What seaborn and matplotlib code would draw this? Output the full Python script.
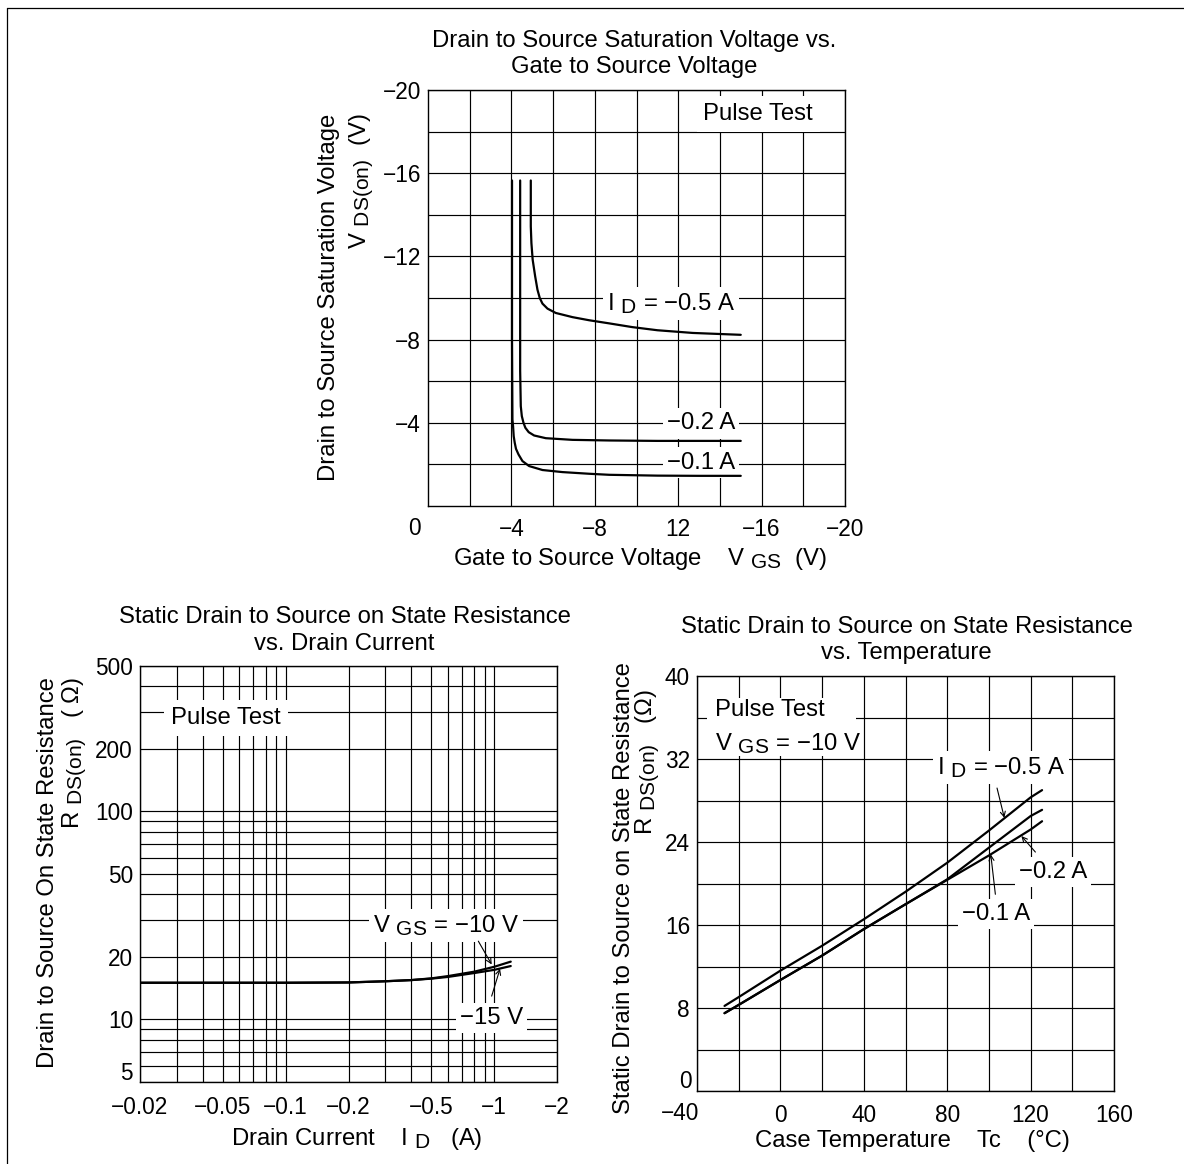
import numpy as np
import matplotlib
matplotlib.use("Agg")
import matplotlib.pyplot as plt
import seaborn as sns
from matplotlib.ticker import FixedLocator, NullFormatter
from matplotlib.lines import Line2D
from matplotlib.patches import Rectangle

# ---------------- data ----------------
# Top: V_DS(on) vs V_GS
vgs_01 = [-4.03, -4.03, -4.05, -4.08, -4.11, -4.16, -4.22, -4.34, -4.53, -4.85, -5.49, -6.45, -7.73, -8.69, -11.0, -13.0, -15.0]
vds_01 = [-15.65, -8.0, -4.16, -3.84, -3.36, -3.04, -2.75, -2.48, -2.16, -1.92, -1.73, -1.63, -1.55, -1.50, -1.46, -1.45, -1.45]
vgs_02 = [-4.42, -4.42, -4.45, -4.50, -4.58, -4.67, -4.83, -5.09, -5.65, -6.93, -8.69, -11.0, -15.0]
vds_02 = [-15.65, -6.5, -4.80, -4.32, -4.00, -3.76, -3.55, -3.39, -3.26, -3.18, -3.15, -3.13, -3.13]
vgs_05 = [-4.93, -4.93, -4.96, -5.02, -5.14, -5.25, -5.36, -5.49, -5.73, -6.13, -6.93, -7.73, -8.69, -9.8, -11.0, -12.7, -15.0]
vds_05 = [-15.65, -13.44, -12.64, -11.84, -11.04, -10.4, -10.0, -9.73, -9.49, -9.28, -9.08, -8.93, -8.78, -8.60, -8.45, -8.32, -8.23]
top_xticks = [-4, -8, -12, -16, -20]
top_xticklabels = ["\u22124", "\u22128", "12", "\u221216", "\u221220"]
top_yticks = [-4, -8, -12, -16, -20]
top_yticklabels = ["\u22124", "\u22128", "\u221212", "\u221216", "\u221220"]

# Bottom-left: R_DS(on) vs I_D
id_vals = [-0.02, -0.05, -0.1, -0.2, -0.3, -0.4, -0.5, -0.6, -0.8, -1.0, -1.2]
r_vgs10 = [15.0, 15.0, 15.0, 15.05, 15.25, 15.45, 15.75, 16.15, 16.95, 17.9, 18.95]
r_vgs15 = [15.0, 15.0, 15.0, 15.05, 15.25, 15.45, 15.7, 16.0, 16.7, 17.3, 18.05]
bl_xticks = [0.02, 0.05, 0.1, 0.2, 0.5, 1, 2]
bl_xticklabels = ["\u22120.02", "\u22120.05", "\u22120.1", "\u22120.2", "\u22120.5", "\u22121", "\u22122"]
bl_yticks = [5, 10, 20, 50, 100, 200, 500]
bl_yticklabels = ["", "10", "20", "50", "100", "200", "500"]

# Bottom-right: R_DS(on) vs Tc
tc_vals = [-26.8, -20, 0, 20, 40, 60, 80, 100, 120, 125.5]
r_id05 = [8.2, 9.05, 11.6, 14.0, 16.55, 19.2, 22.0, 25.1, 28.3, 29.0]
r_id02 = [7.5, 8.3, 10.7, 13.05, 15.6, 18.0, 20.4, 23.45, 26.5, 27.1]
r_id01 = [7.5, 8.3, 10.7, 13.05, 15.6, 18.0, 20.35, 22.7, 25.2, 26.0]
br_xticks = [-40, 0, 40, 80, 120, 160]
br_xticklabels = ["", "0", "40", "80", "120", "160"]
br_yticks = [0, 8, 16, 24, 32, 40]
br_yticklabels = ["", "8", "16", "24", "32", "40"]

# ---------------- style ----------------
sns.set_theme(style="white")
plt.rcParams.update({
    "font.family": ["Liberation Sans", "DejaVu Sans"],
    "mathtext.fontset": "custom",
    "mathtext.rm": "Liberation Sans",
    "mathtext.it": "Liberation Sans:italic",
    "mathtext.bf": "Liberation Sans:bold",
    "axes.edgecolor": "black",
    "axes.linewidth": 1.0,
    "text.color": "black",
    "xtick.color": "black",
    "ytick.color": "black",
    "axes.labelcolor": "black",
})
try:
    import matplotlib._mathtext as _mt
    _mt.SHRINK_FACTOR = 0.88
except Exception:
    pass

W, H = 1184, 1164
FS = 17.2      # titles, labels, annotations
TFS = 16.3     # tick labels
fig = plt.figure(figsize=(W / 100, H / 100), dpi=100)


def ax_at(l, t, r, b):
    return fig.add_axes([l / W, 1 - b / H, (r - l) / W, (b - t) / H])


def ftext(x, y, s, **kw):
    kw.setdefault("fontsize", FS)
    return fig.text(x / W, 1 - y / H, s, **kw)


WB = dict(facecolor="white", edgecolor="none", pad=3)
GRID = dict(color="black", linewidth=0.85)
LW = 1.6


def arrow(ax, tail, head):
    ax.annotate("", xy=head, xytext=tail, zorder=6,
                arrowprops=dict(arrowstyle="->", color="black", lw=0.8,
                                shrinkA=0, shrinkB=0, mutation_scale=9))


def curve(ax, xs, ys):
    sns.lineplot(x=xs, y=ys, ax=ax, color="black", lw=LW, sort=False,
                 estimator=None, zorder=5)


def style_axes(ax):
    ax.grid(True, which="both", **GRID)
    ax.set_axisbelow(True)
    ax.tick_params(which="both", length=0, labelsize=TFS)
    for sp in ax.spines.values():
        sp.set_visible(True)
        sp.set_color("black")
        sp.set_linewidth(1.0)
        sp.set_zorder(7)
    ax.set_xlabel("")
    ax.set_ylabel("")


# ---------------- top chart ----------------
ax1 = ax_at(428, 90, 845, 506)
curve(ax1, vgs_01, vds_01)
curve(ax1, vgs_02, vds_02)
curve(ax1, vgs_05, vds_05)
ax1.set_xlim(0, -20)
ax1.set_ylim(0, -20)
ax1.xaxis.set_major_locator(FixedLocator(top_xticks))
ax1.set_xticklabels(top_xticklabels)
ax1.xaxis.set_minor_locator(FixedLocator([-2, -6, -10, -14, -18]))
ax1.yaxis.set_major_locator(FixedLocator(top_yticks))
ax1.set_yticklabels(top_yticklabels)
ax1.yaxis.set_minor_locator(FixedLocator([-2, -6, -10, -14, -18]))
style_axes(ax1)
ax1.tick_params(axis="x", pad=9)
ax1.tick_params(axis="y", pad=5)
ftext(414, 529, "0", ha="center", va="center", fontsize=TFS)

ax1.text(-15.84, -18.56, "Pulse Test", ha="center", va="baseline", fontsize=FS, bbox=dict(WB, pad=5))
ax1.text(-14.74, -9.44, "I $_{\\mathrm{D}}$ = \u22120.5 A", ha="right", va="baseline", fontsize=FS, bbox=WB)
ax1.text(-14.74, -3.68, "\u22120.2 A", ha="right", va="baseline", fontsize=FS, bbox=WB)
ax1.text(-14.74, -1.80, "\u22120.1 A", ha="right", va="baseline", fontsize=FS, bbox=WB)

ftext(634.5, 47.5, "Drain to Source Saturation Voltage vs.", ha="center", va="baseline")
ftext(634.5, 73.5, "Gate to Source Voltage", ha="center", va="baseline")
ftext(328.5, 113.6, "Drain to Source Saturation Voltage", rotation=90, ha="center", va="top")
ftext(361.5, 113.6, "V $_{\\mathrm{DS(on)}}$  (V)", rotation=90, ha="center", va="top")
ftext(640, 564.6, "Gate to Source Voltage    V $_{\\mathrm{GS}}$  (V)", ha="center", va="baseline")

# ---------------- bottom-left chart ----------------
ax2 = ax_at(140, 666, 557, 1082)
id_abs = np.abs(id_vals)
curve(ax2, id_abs, r_vgs15)
curve(ax2, id_abs, r_vgs10)
ax2.set_xscale("log")
ax2.set_yscale("log")
ax2.set_xlim(0.02, 2)
ax2.set_ylim(5, 500)
minor_x = [k * 10.0 ** e for e in (-2, -1, 0) for k in range(1, 10) if 0.02 < k * 10.0 ** e < 2]
minor_y = [k * 10.0 ** e for e in (0, 1, 2) for k in range(1, 10) if 5 < k * 10.0 ** e < 500]
ax2.xaxis.set_major_locator(FixedLocator(bl_xticks))
ax2.set_xticklabels(bl_xticklabels)
ax2.xaxis.set_minor_locator(FixedLocator(minor_x))
ax2.xaxis.set_minor_formatter(NullFormatter())
ax2.yaxis.set_major_locator(FixedLocator(bl_yticks))
ax2.set_yticklabels(bl_yticklabels)
ax2.yaxis.set_minor_locator(FixedLocator(minor_y))
ax2.yaxis.set_minor_formatter(NullFormatter())
style_axes(ax2)
ax2.tick_params(axis="x", pad=10)
ax2.tick_params(axis="y", pad=5)
ftext(133, 1074, "5", ha="right", va="center", fontsize=TFS)

ax2.text(0.0517, 263.6, "Pulse Test", ha="center", va="baseline", fontsize=FS, bbox=dict(WB, pad=5))
ax2.text(0.263, 26.17, "V $_{\\mathrm{GS}}$ = \u221210 V", ha="left", va="baseline", fontsize=FS, bbox=WB)
ax2.text(0.686, 9.46, "\u221215 V", ha="left", va="baseline", fontsize=FS, bbox=WB)
arrow(ax2, (0.839, 23.77), (0.972, 18.37))
arrow(ax2, (0.972, 12.94), (1.066, 17.52))

ftext(344.5, 623, "Static Drain to Source on State Resistance", ha="center", va="baseline")
ftext(344.5, 649.5, "vs. Drain Current", ha="center", va="baseline")
ftext(48, 677, "Drain to Source On State Resistance", rotation=90, ha="center", va="top")
ftext(75, 677, "R $_{\\mathrm{DS(on)}}$   ( \u03a9)", rotation=90, ha="center", va="top")
ftext(357, 1145, "Drain Current    I $_{\\mathrm{D}}$   (A)", ha="center", va="baseline")

# ---------------- bottom-right chart ----------------
ax3 = ax_at(697, 676, 1114, 1091)
curve(ax3, tc_vals, r_id01)
curve(ax3, tc_vals, r_id02)
curve(ax3, tc_vals, r_id05)
ax3.set_xlim(-40, 160)
ax3.set_ylim(0, 40)
ax3.xaxis.set_major_locator(FixedLocator(br_xticks))
ax3.set_xticklabels(br_xticklabels)
ax3.xaxis.set_minor_locator(FixedLocator([-20, 20, 60, 100, 140]))
ax3.yaxis.set_major_locator(FixedLocator(br_yticks))
ax3.set_yticklabels(br_yticklabels)
ax3.yaxis.set_minor_locator(FixedLocator([4, 12, 20, 28, 36]))
style_axes(ax3)
ax3.tick_params(axis="x", pad=9)
ax3.tick_params(axis="y", pad=5)
ftext(680, 1113, "\u221240", ha="center", va="center", fontsize=TFS)
ftext(692, 1082, "0", ha="right", va="center", fontsize=TFS)

# white panel behind the two-line "Pulse Test / V_GS" note
ax3.add_patch(Rectangle((-35.3, 32.26), 71.4, 5.58, facecolor="white", edgecolor="none", zorder=2))
ax3.text(-31.5, 36.1, "Pulse Test", ha="left", va="baseline", fontsize=FS, zorder=3)
ax3.text(-31.5, 32.9, "V $_{\\mathrm{GS}}$ = \u221210 V", ha="left", va="baseline", fontsize=FS, zorder=3)
ax3.text(74.9, 30.53, "I $_{\\mathrm{D}}$ = \u22120.5 A", ha="left", va="baseline", fontsize=FS, bbox=WB)
ax3.text(114.3, 20.56, "\u22120.2 A", ha="left", va="baseline", fontsize=FS, bbox=WB)
ax3.text(87.1, 16.5, "\u22120.1 A", ha="left", va="baseline", fontsize=FS, bbox=WB)
arrow(ax3, (103.9, 29.2), (107.4, 26.33))
arrow(ax3, (122.3, 23.03), (115.6, 24.57))
arrow(ax3, (103.1, 18.96), (100.9, 22.8))

ftext(906.5, 633, "Static Drain to Source on State Resistance", ha="center", va="baseline")
ftext(906.5, 658.5, "vs. Temperature", ha="center", va="baseline")
ftext(623.5, 661.7, "Static Drain to Source on State Resistance", rotation=90, ha="center", va="top")
ftext(648, 689, "R $_{\\mathrm{DS(on)}}$   (\u03a9)", rotation=90, ha="center", va="top")
ftext(912.5, 1146.7, "Case Temperature    Tc    (\u00b0C)", ha="center", va="baseline")

# ---------------- page frame (left and top edges) ----------------
fig.add_artist(Line2D([6.5 / W, 6.5 / W], [0, 1 - 8 / H], transform=fig.transFigure, color="black", lw=0.9))
fig.add_artist(Line2D([6.5 / W, 1], [1 - 8 / H, 1 - 8 / H], transform=fig.transFigure, color="black", lw=0.9))

fig.savefig("out.png", dpi=100, facecolor="white")
